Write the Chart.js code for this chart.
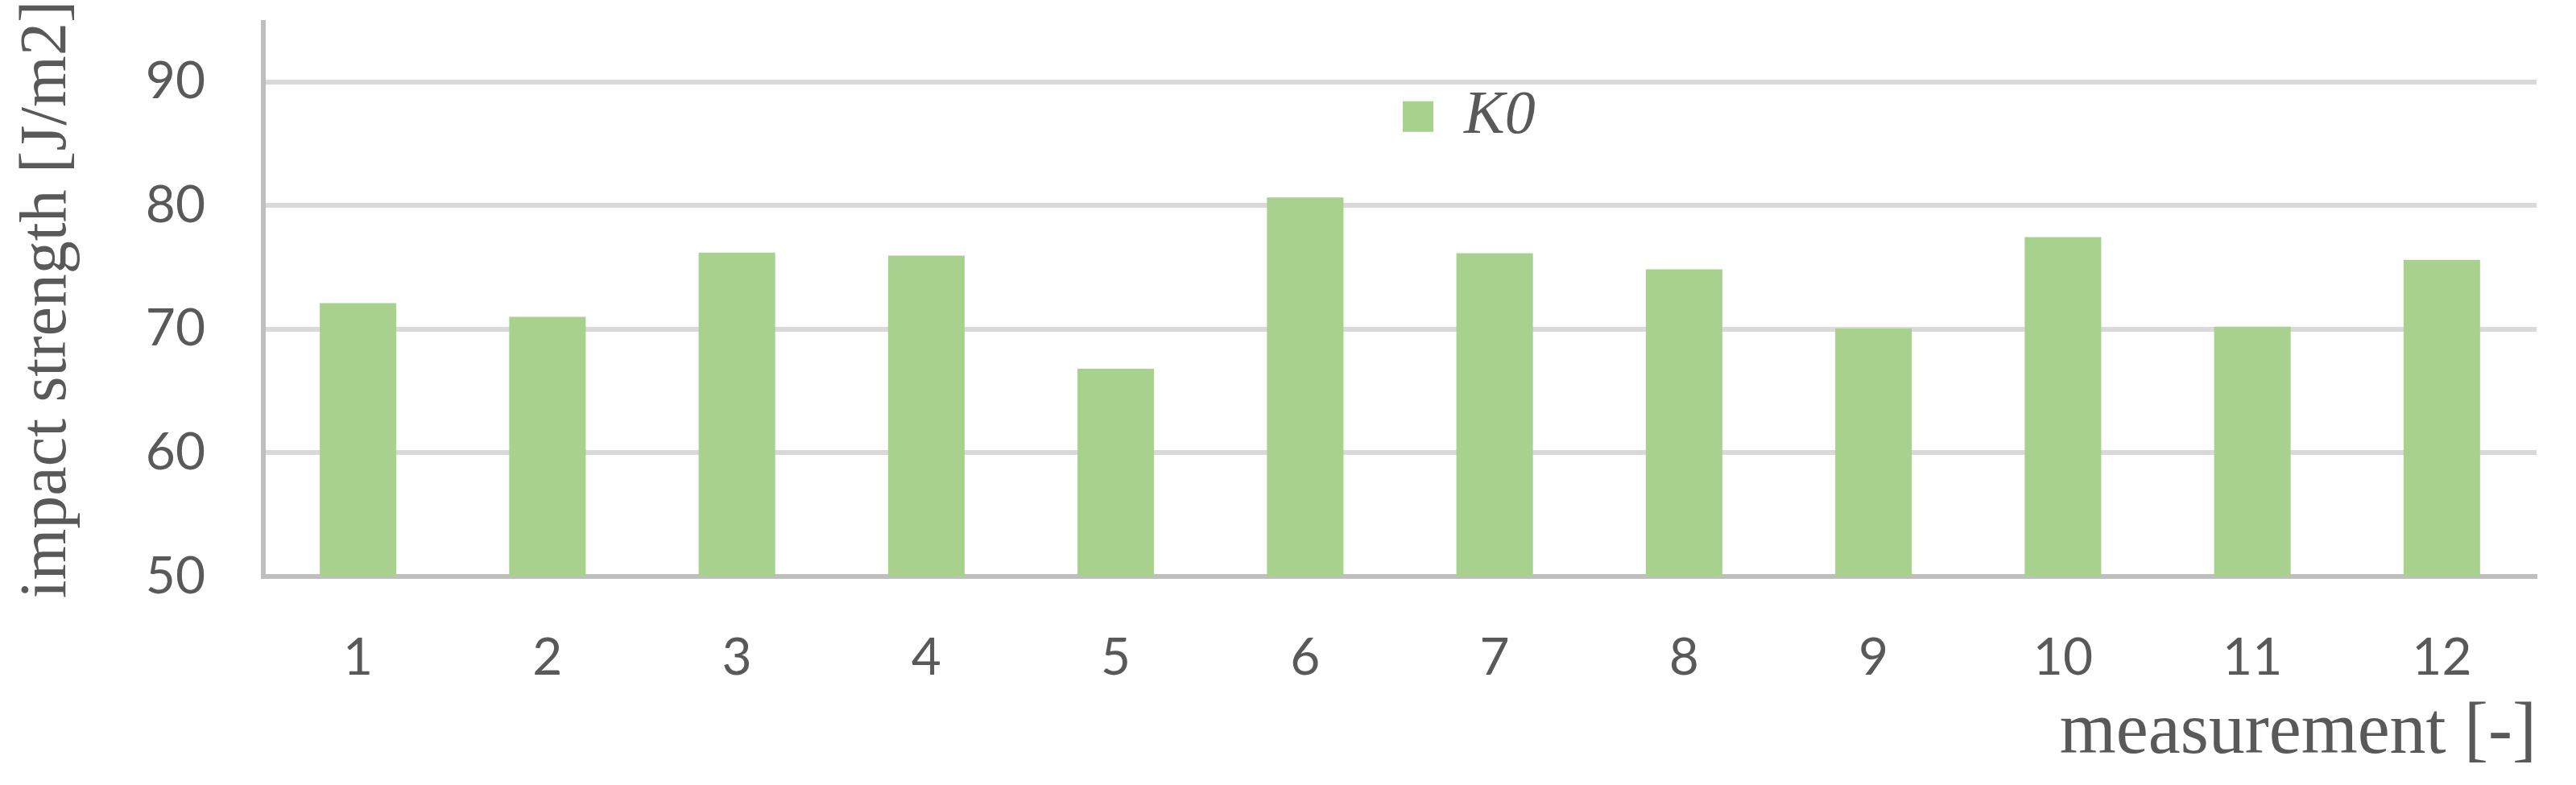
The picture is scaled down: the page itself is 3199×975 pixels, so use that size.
<!DOCTYPE html>
<html>
<head>
<meta charset="utf-8">
<script src="https://cdn.jsdelivr.net/npm/chart.js@4/dist/chart.umd.min.js"></script>
<style>
  html, body { margin: 0; padding: 0; background: #fff; }
  canvas { display: block; }
</style>
</head>
<body>
<canvas id="bar-chart" width="3199" height="975"></canvas>
<script>
// data
const measurements = ['1', '2', '3', '4', '5', '6', '7', '8', '9', '10', '11', '12'];
const impactK0 = [72.1, 71.0, 76.2, 75.95, 66.8, 80.65, 76.15, 74.85, 70.05, 77.45, 70.2, 75.6];
const yMin = 50;
const yMax = 94.8;
const yStep = 10;

const GREEN = '#a9d18e';
const TEXT = '#595959';
const NONE = 'rgba(0,0,0,0)';

// legend sits inside the plot, a bit right of centre (like the excel original)
const legendInPlot = {
  id: 'legendInPlot',
  afterLayout(chart) {
    const a = chart.chartArea;
    chart.legend.left = a.left + (a.right - a.left) * 0.4977;
    chart.legend.top = a.top + (a.bottom - a.top) * 0.1;
  }
};

new Chart(document.getElementById('bar-chart'), {
  type: 'bar',
  data: {
    labels: measurements,
    datasets: [{
      label: 'K0',
      data: impactK0,
      backgroundColor: GREEN,
      borderWidth: 0,
      categoryPercentage: 1,
      barPercentage: 0.404
    }]
  },
  plugins: [legendInPlot],
  options: {
    responsive: false,
    animation: false,
    devicePixelRatio: 1,
    layout: { padding: { top: 28, right: 49, bottom: 0, left: 0 } },
    plugins: {
      tooltip: { enabled: false },
      legend: {
        position: 'chartArea',
        fullSize: false,
        align: 'start',
        labels: {
          boxWidth: 38,
          boxHeight: 38,
          padding: 10,
          color: TEXT,
          font: { family: 'Liberation Serif', size: 76, style: 'italic' }
        }
      }
    },
    scales: {
      x: {
        // invisible tick marks only used as spacing under the axis
        grid: { display: true, drawOnChartArea: false, color: NONE, tickColor: NONE, tickLength: 63 },
        border: { display: true, color: '#bfbfbf', width: 6 },
        ticks: {
          color: TEXT,
          padding: 0,
          font: { family: 'Lato', size: 64 }
        },
        title: {
          display: true,
          text: 'measurement [-]',
          align: 'end',
          color: TEXT,
          padding: { top: 7, bottom: 10 },
          font: { family: 'Liberation Serif', size: 90 }
        },
        afterFit(scale) { scale.height = 259; }
      },
      y: {
        min: yMin,
        max: yMax,
        grid: {
          lineWidth: 6,
          tickLength: 72,
          tickColor: NONE,
          color: (ctx) => (ctx.tick && ctx.tick.value === yMin ? NONE : '#d9d9d9')
        },
        border: { display: true, color: '#bfbfbf', width: 6 },
        ticks: {
          stepSize: yStep,
          includeBounds: false,
          color: TEXT,
          padding: 0,
          font: { family: 'Lato', size: 64, lineHeight: 0.8 }
        },
        title: {
          display: true,
          text: 'impact strength [J/m2]',
          color: TEXT,
          padding: { top: 10, bottom: 0 },
          font: { family: 'Liberation Serif', size: 82 }
        },
        afterFit(scale) { scale.width = 327; }
      }
    }
  }
});
</script>
</body>
</html>
